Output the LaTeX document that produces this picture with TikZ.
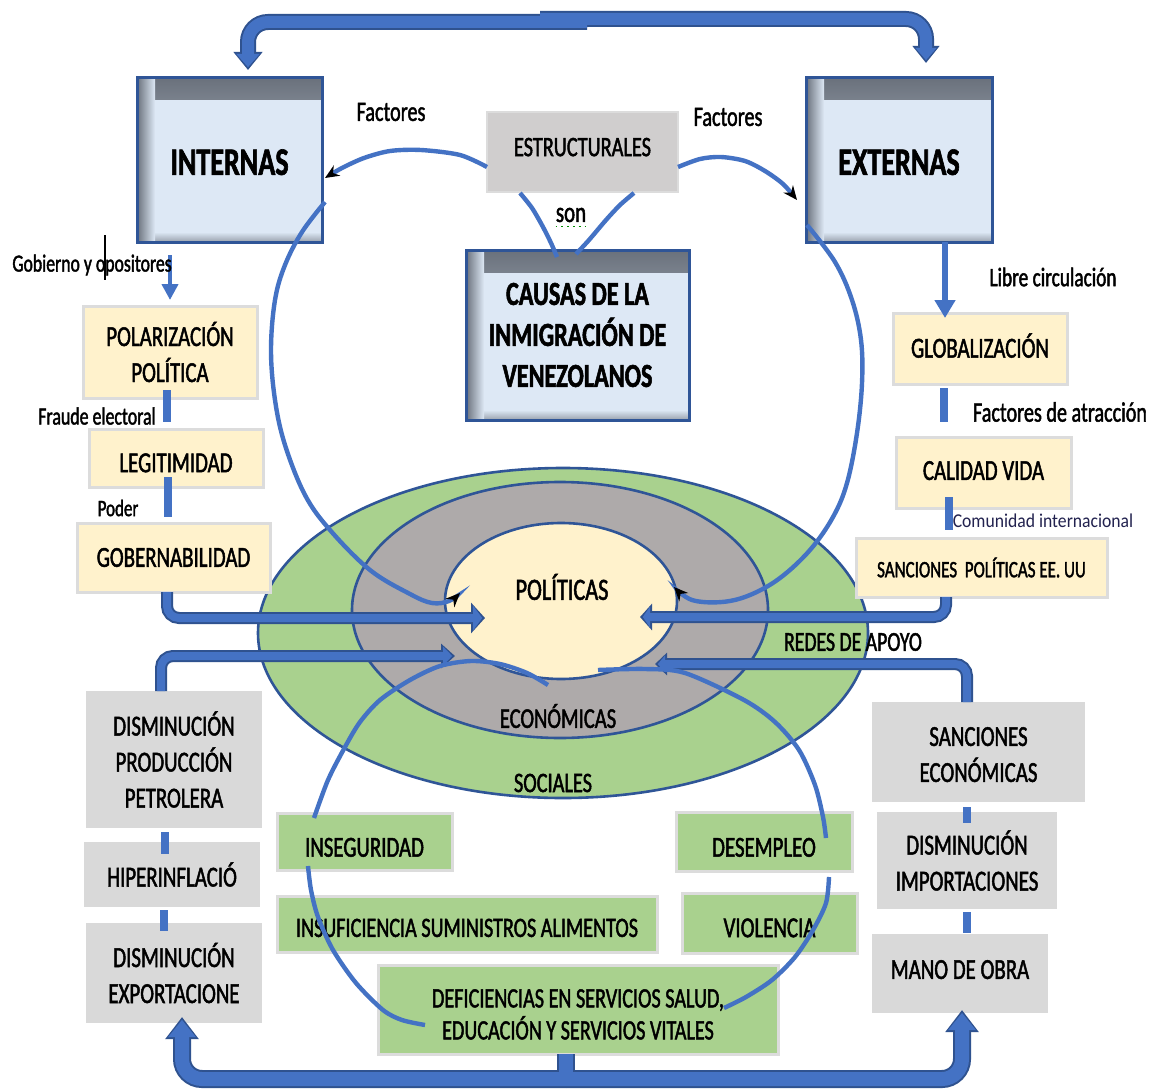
\documentclass[tikz,border=0pt]{standalone}
\usepackage{fontspec}
\setmainfont{Carlito}[FakeStretch=0.72,FakeBold=1.6]
\newfontfamily\comfont{Carlito}[FakeStretch=0.9]
\usetikzlibrary{arrows.meta,shapes.geometric}
\definecolor{bblue}{HTML}{4472C4}
\definecolor{bdark}{HTML}{2F528F}
\definecolor{boxblue}{HTML}{2F5597}
\definecolor{lblue}{HTML}{DDE8F5}
\definecolor{shadowc}{HTML}{6A717C}
\definecolor{cream}{HTML}{FFF2CC}
\definecolor{lgray}{HTML}{DCDCDC}
\definecolor{gbox}{HTML}{D9D9D9}
\definecolor{estr}{HTML}{D0CECE}
\definecolor{greenf}{HTML}{A9D18E}
\definecolor{egray}{HTML}{AEAAAA}
\definecolor{navy}{HTML}{22224F}
\newcommand\fs[2]{\fontsize{#1}{#2}\selectfont}
\newcommand\hup[1]{\rule{0pt}{#1}}
\newcommand\dwn[1]{\rule[-#1]{0pt}{#1}}
\newcommand\bx[7]{\node[#6,inner sep=0pt,outer sep=0pt,minimum width={(#4-#2)*0.5pt},minimum height={(#5-#3)*0.5pt}] (#1) at ({(#2+#4)/2},{(#3+#5)/2}) {#7};}
\begin{document}
\begin{tikzpicture}[x=0.5pt,y=-0.5pt,
  bluebox/.style={draw=boxblue,line width=1.5pt,fill=lblue,
    path picture={
      \fill[top color=shadowc,bottom color=lblue] (path picture bounding box.north west) rectangle ([yshift=-11pt]path picture bounding box.north east);
      \fill[bottom color=shadowc!60!lblue,top color=lblue] (path picture bounding box.south west) rectangle ([yshift=5pt]path picture bounding box.south east);
      \fill[left color=shadowc,right color=lblue] (path picture bounding box.north west) rectangle ([xshift=9pt]path picture bounding box.south west);}},
  creambox/.style={draw=lgray,line width=1.5pt,fill=cream},
  graybox/.style={fill=gbox},
  greenbox/.style={draw=lgray,line width=1.5pt,fill=greenf},
  estrbox/.style={draw=lgray,line width=1.2pt,fill=estr},
  btxt/.style={font=\fs{14.5}{18},align=center},
  bigtxt/.style={font=\bfseries\fs{19.5}{22}},
  causatxt/.style={font=\bfseries\fs{16.8}{20.5},align=center},
  lbl/.style={font=\fs{14}{16},inner sep=0pt},
  slbl/.style={font=\fs{12.3}{14},inner sep=0pt},
  ell/.style={ellipse,draw=boxblue,line width=1.3pt,inner sep=0pt},
  curve/.style={draw=bblue,line width=2.2pt},
  btip/.style={-{Stealth[length=7pt,width=6pt,color=black]}},
  conn/.style={draw=bblue,line width=4.3pt},
  blkO/.style n args={3}{draw=bdark,line width=#1,-{Triangle[width=#2,length=#3]}},
  blkI/.style n args={3}{draw=bblue,line width=#1,-{Triangle[width=#2,length=#3]},shorten >=1.4pt},
]
\fill[white] (0,0) rectangle (1160,1091);
\useasboundingbox (0,0) rectangle (1160,1091);

% ellipses
\node[ell,fill=greenf,minimum width=305pt,minimum height=165pt] (esoc) at (563,633) {};
\node[ell,fill=egray,minimum width=208pt,minimum height=128pt] (eeco) at (560,610) {};
\node[ell,fill=cream,minimum width=116pt,minimum height=78pt] (epol) at (561,601) {};
\node[lbl,font=\fs{15.5}{17}] (lpol) at (562,587) {POLÍTICAS};
\node[lbl,font=\fs{14.3}{16}] (leco) at (558,716) {ECONÓMICAS};
\node[lbl,font=\fs{14.1}{16}] (lsoc) at (553,783) {SOCIALES};

% boxes
\bx{internas}{137}{78}{322}{242}{bluebox,bigtxt}{\hup{15pt}INTERNAS}
\bx{externas}{806}{78}{992}{242}{bluebox,bigtxt}{\hup{15pt}EXTERNAS}
\bx{estruct}{487}{112}{678}{192}{estrbox,btxt,font=\fs{14.1}{16}}{ESTRUCTURALES\dwn{5pt}}
\bx{causas}{466}{250}{689}{420}{bluebox,causatxt}{CAUSAS DE LA\\INMIGRACIÓN DE\\VENEZOLANOS}
\bx{polar}{83}{306}{257}{398}{creambox,btxt}{\hup{12pt}POLARIZACIÓN\\POLÍTICA}
\bx{legit}{89}{429}{263}{487}{creambox,btxt}{\hup{14.3pt}LEGITIMIDAD}
\bx{gober}{77}{523}{270}{592}{creambox,btxt}{GOBERNABILIDAD}
\bx{glob}{893}{313}{1067}{384}{creambox,btxt}{GLOBALIZACIÓN\dwn{3pt}}
\bx{calidad}{896}{437}{1071}{508}{creambox,btxt}{CALIDAD VIDA\dwn{2pt}}
\bx{sancpol}{856}{538}{1107}{597}{creambox,btxt,font=\fs{11.8}{14}}{SANCIONES\ \ POLÍTICAS EE. UU}
\bx{dpp}{86}{691}{262}{828}{graybox,btxt}{DISMINUCIÓN\\PRODUCCIÓN\\PETROLERA}
\bx{hiper}{84}{842}{260}{907}{graybox,btxt}{HIPERINFLACIÓ}
\bx{dexp}{86}{923}{262}{1023}{graybox,btxt}{DISMINUCIÓN\\EXPORTACIONE}
\bx{insegur}{277}{813}{452}{870}{greenbox,btxt}{\hup{15.3pt}INSEGURIDAD}
\bx{insuf}{277}{896}{657}{952}{greenbox,btxt,font=\fs{14}{16}}{\hup{13pt}INSUFICIENCIA SUMINISTROS ALIMENTOS}
\bx{defic}{378}{965}{778}{1054}{greenbox,btxt,font=\fs{14}{16}}{\hup{14pt}DEFICIENCIAS EN SERVICIOS SALUD,\\EDUCACIÓN Y SERVICIOS VITALES}
\bx{desemp}{676}{812}{852}{871}{greenbox,btxt}{\hup{15.3pt}DESEMPLEO}
\bx{violen}{682}{893}{857}{953}{greenbox,btxt}{\hup{14.3pt}VIOLENCIA}
\bx{sanceco}{872}{702}{1085}{802}{graybox,btxt}{\hup{12pt}SANCIONES\\ECONÓMICAS}
\bx{dimp}{877}{812}{1057}{909}{graybox,btxt}{DISMINUCIÓN\\IMPORTACIONES}
\bx{mano}{872}{934}{1048}{1013}{graybox,btxt}{MANO DE OBRA\dwn{4pt}}

% coordinates for free ends
\coordinate (topL) at (587,22);
\coordinate (topR) at (540,19);
\coordinate (tipTL) at (248,70);
\coordinate (tipTR) at (926,63);
\coordinate (botM) at (566,1079);
\coordinate (tipBL) at (182,1017);
\coordinate (tipBR) at (962,1010);
\coordinate (t1) at (485,618);
\coordinate (t2) at (455,656);
\coordinate (t3) at (640,617);
\coordinate (t4) at (655,664);

% block arrows: outlines
\draw[blkO={8pt}{14pt}{9pt},rounded corners=10pt] (topL) -| (tipTL);
\draw[blkO={8pt}{13pt}{8.5pt},rounded corners=10pt] (topR) -| (tipTR);
\draw[draw=bdark,line width=9pt] (566,0 |- defic.south) -- (botM);
\draw[blkO={9pt}{16pt}{11pt},rounded corners=10pt] (botM) -| (tipBL);
\draw[blkO={9pt}{16pt}{11pt},rounded corners=10pt] (botM) -| (tipBR);
\draw[blkO={6pt}{15pt}{7pt},rounded corners=6pt] (167,0 |- gober.south) |- (t1);
\draw[blkO={6pt}{12pt}{7pt},rounded corners=6pt] (161,0 |- dpp.north) |- (t2);
\draw[blkO={6pt}{13pt}{6pt},rounded corners=6pt] (946,0 |- sancpol.south) |- (t3);
\draw[blkO={6pt}{11pt}{6pt},rounded corners=6pt] (967,0 |- sanceco.north) |- (t4);
% block arrows: fills
\draw[blkI={6pt}{11.2pt}{6.6pt},rounded corners=10pt] (topL) -| (tipTL);
\draw[blkI={6pt}{10.2pt}{6.1pt},rounded corners=10pt] (topR) -| (tipTR);
\draw[draw=bblue,line width=7pt] (566,0 |- defic.south) -- (botM);
\draw[blkI={7pt}{13.2pt}{8.6pt},rounded corners=10pt] (botM) -| (tipBL);
\draw[blkI={7pt}{13.2pt}{8.6pt},rounded corners=10pt] (botM) -| (tipBR);
\draw[blkI={4pt}{12.2pt}{4.6pt},rounded corners=6pt] (167,0 |- gober.south) |- (t1);
\draw[blkI={4pt}{9.2pt}{4.6pt},rounded corners=6pt] (161,0 |- dpp.north) |- (t2);
\draw[blkI={4pt}{10.2pt}{3.6pt},rounded corners=6pt] (946,0 |- sancpol.south) |- (t3);
\draw[blkI={4pt}{8.2pt}{3.6pt},rounded corners=6pt] (967,0 |- sanceco.north) |- (t4);

% short connectors
\draw[conn,shorten <=-4pt,shorten >=3.5pt] (167,0 |- polar.south) -- (167,0 |- legit.north);
\draw[conn,shorten <=-5pt,shorten >=3pt] (168,0 |- legit.south) -- (168,0 |- gober.north);
\draw[conn,shorten <=2pt,shorten >=7.5pt] (944,0 |- glob.south) -- (944,0 |- calidad.north);
\draw[conn,shorten <=-5.5pt,shorten >=4pt] (949,0 |- calidad.south) -- (949,0 |- sancpol.north);
\draw[conn,line width=4pt,shorten <=2pt,shorten >=-6pt] (165,0 |- dpp.south) -- (165,0 |- hiper.north);
\draw[conn,line width=4pt,shorten <=1.5pt,shorten >=-4pt] (164,0 |- hiper.south) -- (164,0 |- dexp.north);
\draw[conn,line width=4pt,shorten <=2.5pt,shorten >=-5.5pt] (967,0 |- sanceco.south) -- (967,0 |- dimp.north);
\draw[conn,line width=4pt,shorten <=1.5pt,shorten >=0.5pt] (967,0 |- dimp.south) -- (967,0 |- mano.north);

% thin arrows
\coordinate (gstart) at (170,255);
\draw[draw=bblue,line width=2pt,-{Triangle[width=8pt,length=8pt]},shorten >=3pt] (gstart) -- (170,0 |- polar.north);
\draw[draw=bblue,line width=3pt,-{Triangle[width=10pt,length=9pt]},shorten >=-2.5pt] (945,0 |- externas.south) -- (945,0 |- glob.north);

% curves
\coordinate (a1s) at (325,202); \coordinate (a1e) at (460,593);
\draw[curve,btip] plot[smooth,tension=0.6] coordinates {(a1s) (302,232) (285,265) (275,300) (271,350) (275,400) (285,445) (305,495) (330,530) (370,570) (410,594) (432,603) (449,601) (a1e)};
\coordinate (a2s) at (807,225); \coordinate (a2e) at (674,587);
\draw[curve,btip] plot[smooth,tension=0.6] coordinates {(a2s) (835,262) (852,300) (861,340) (862,383) (857,433) (847,483) (833,517) (810,550) (780,578) (750,595) (722,602) (692,600) (a2e)};
\coordinate (e1s) at (487,167); \coordinate (e1e) at (325,178);
\draw[curve,btip] plot[smooth] coordinates {(e1s) (460,155) (421,150) (390,151) (364,158) (342,168) (e1e)};
\coordinate (e2s) at (678,167); \coordinate (e2e) at (797,200);
\draw[curve,btip] plot[smooth] coordinates {(e2s) (700,159) (721,157) (745,161) (765,171) (783,184) (e2e)};
\coordinate (v1s) at (520,193); \coordinate (v1e) at (557,257);
\draw[curve] plot[smooth] coordinates {(v1s) (532,208) (543,227) (551,243) (v1e)};
\coordinate (v2s) at (576,254); \coordinate (v2e) at (634,193);
\draw[curve] plot[smooth] coordinates {(v2s) (589,240) (606,220) (620,205) (v2e)};
\coordinate (l1s) at (548,685); \coordinate (l1e) at (314,818);
\draw[curve] plot[smooth] coordinates {(l1s) (527,673) (500,664) (471,661) (440,666) (410,680) (380,700) (360,722) (345,747) (328,780) (l1e)};
\coordinate (l2s) at (308,866); \coordinate (l2e) at (425,1025);
\draw[curve] plot[smooth] coordinates {(l2s) (311,890) (318,917) (333,950) (356,983) (383,1010) (402,1020) (l2e)};
\coordinate (r1s) at (598,670); \coordinate (r1e) at (826,838);
\draw[curve] plot[smooth] coordinates {(r1s) (645,669) (685,673) (744,700) (775,722) (799,750) (815,785) (823,817) (r1e)};
\coordinate (r2s) at (829,877); \coordinate (r2e) at (724,1008);
\draw[curve] plot[smooth] coordinates {(r2s) (826,903) (813,930) (795,957) (772,980) (746,997) (r2e)};

% labels
\node[lbl] (fac1) at (391,112) {Factores};
\node[lbl] (fac2) at (728,117) {Factores};
\node[lbl,font=\fs{14.5}{16}] (son) at (571,215) {son};
\draw[dotted,green!55!black,line width=0.9pt] ([yshift=-2pt]son.south west) -- ([yshift=-2pt]son.south east);
\node[slbl,anchor=west] (gob) at (12,265) {Gobierno y opositores};
\coordinate (cur1) at (105,235); \coordinate (cur2) at (105,280);
\draw[black,line width=1pt] (cur1) -- (cur2);
\node[slbl,font=\fs{12.4}{14}] (fraude) at (97,416) {Fraude electoral};
\node[slbl,font=\fs{11.8}{14}] (poder) at (118,508) {Poder};
\node[lbl,font=\fs{13.4}{15}] (libre) at (1053,277) {Libre circulación};
\node[lbl] (atrac) at (1060,412) {Factores de atracción};
\node[font=\comfont\fs{9.8}{11},text=navy,inner sep=0pt] (comun) at (1043,521) {Comunidad internacional};
\node[lbl,font=\fs{13.7}{15}] (redes) at (853,642) {REDES DE APOYO};
\end{tikzpicture}
\end{document}
